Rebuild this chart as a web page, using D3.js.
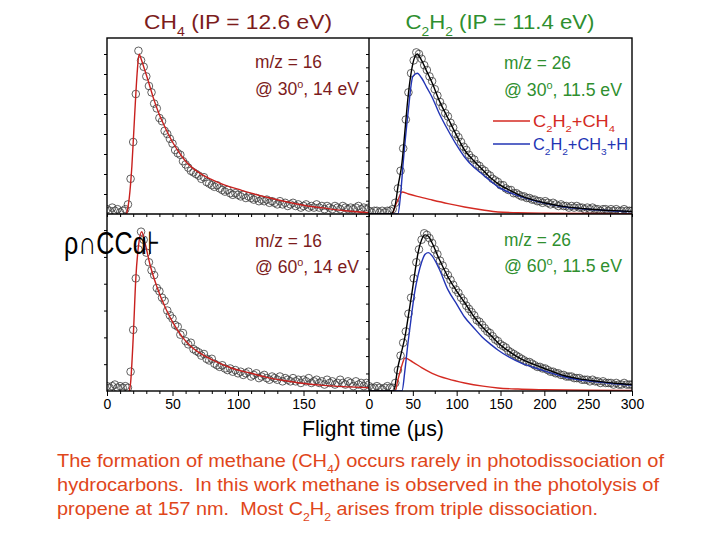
<!DOCTYPE html>
<html><head><meta charset="utf-8">
<script src="https://cdn.jsdelivr.net/npm/d3@7"></script>
<style>body{margin:0;background:#fff}svg{display:block}text{font-family:"Liberation Sans",Arial,sans-serif}</style>
</head><body>
<svg id="c" width="720" height="540"></svg>
<script>
// ---------- DATA ----------
const timeLeft = [0,2,4,6,8,10,12,14,16,18,20,22,24,26,28,30,32,34,36,38,40,42,44,46,48,50,52,54,56,58,60,62,64,66,68,70,72,74,76,78,80,82,84,86,88,90,92,94,96,98,100,102,104,106,108,110,112,114,116,118,120,122,124,126,128,130,132,134,136,138,140,142,144,146,148,150,152,154,156,158,160,162,164,166,168,170,172,174,176,178,180,182,184,186,188,190,192,194,196,198,200];
const timeRight = [0,3,6,9,12,15,18,21,24,27,30,33,36,39,42,45,48,51,54,57,60,63,66,69,72,75,78,81,84,87,90,93,96,99,102,105,108,111,114,117,120,123,126,129,132,135,138,141,144,147,150,153,156,159,162,165,168,171,174,177,180,183,186,189,192,195,198,201,204,207,210,213,216,219,222,225,228,231,234,237,240,243,246,249,252,255,258,261,264,267,270,273,276,279,282,285,288,291,294,297,300];

// CH4 m/z=16, 30 deg
const ch4At30Data = [0.03,0.02,0.04,0.02,0.03,0.01,0.02,0.03,0.06,0.22,0.45,0.75,1.02,0.96,0.92,0.86,0.80,0.76,0.69,0.66,0.60,0.58,0.52,0.50,0.47,0.44,0.40,0.38,0.37,0.33,0.31,0.29,0.27,0.26,0.25,0.24,0.22,0.23,0.20,0.19,0.18,0.17,0.18,0.16,0.15,0.14,0.15,0.13,0.12,0.13,0.12,0.11,0.12,0.10,0.11,0.10,0.09,0.10,0.08,0.09,0.08,0.09,0.07,0.08,0.07,0.06,0.08,0.06,0.07,0.05,0.06,0.07,0.05,0.06,0.04,0.05,0.06,0.04,0.05,0.04,0.06,0.04,0.05,0.03,0.05,0.04,0.03,0.05,0.04,0.03,0.05,0.04,0.03,0.04,0.03,0.04,0.05,0.03,0.04,0.03,0.04];
const ch4At30FitT = [15,17,19,21,23,24.5,26,28,30,33,36,40,45,50,55,60,65,70,75,80,90,100,110,122,135,150,165,180,200];
const ch4At30FitV = [0,0.1,0.3,0.6,0.88,1.0,0.97,0.92,0.87,0.79,0.71,0.62,0.53,0.45,0.385,0.33,0.29,0.26,0.235,0.215,0.18,0.155,0.13,0.105,0.08,0.055,0.038,0.022,0.008];

// CH4 m/z=16, 60 deg
const ch4At60Data = [0.03,0.02,0.03,0.04,0.02,0.03,0.02,0.03,0.02,0.12,0.38,0.70,0.88,0.99,0.94,0.86,0.80,0.75,0.72,0.64,0.62,0.58,0.56,0.50,0.47,0.45,0.41,0.40,0.35,0.36,0.31,0.29,0.30,0.26,0.25,0.24,0.22,0.23,0.20,0.19,0.20,0.17,0.16,0.15,0.16,0.14,0.13,0.14,0.12,0.13,0.11,0.12,0.10,0.11,0.12,0.09,0.10,0.11,0.08,0.09,0.10,0.08,0.07,0.09,0.08,0.07,0.09,0.06,0.08,0.07,0.06,0.08,0.06,0.07,0.05,0.07,0.06,0.08,0.05,0.06,0.07,0.05,0.06,0.04,0.07,0.05,0.06,0.04,0.05,0.07,0.05,0.04,0.06,0.05,0.03,0.06,0.04,0.05,0.03,0.05,0.04];
const ch4At60FitT = [17,18,20,22,24,26.5,29,33,38,45,50,58,65,71,80,96,110,122,135,147,165,180,200];
const ch4At60FitV = [0,0.05,0.33,0.7,0.9,0.99,0.92,0.78,0.65,0.51,0.43,0.33,0.27,0.235,0.195,0.14,0.11,0.085,0.065,0.05,0.035,0.027,0.02];

// C2H2 m/z=26, 30 deg
const c2h2At30Data = [0.02,0.01,0.02,0.02,0.01,0.02,0.01,0.02,0.02,0.03,0.07,0.16,0.27,0.41,0.59,0.76,0.88,0.96,1.01,1.0,0.97,0.93,0.90,0.86,0.83,0.78,0.74,0.70,0.67,0.63,0.61,0.57,0.54,0.50,0.48,0.45,0.42,0.40,0.37,0.35,0.34,0.31,0.30,0.28,0.27,0.25,0.24,0.22,0.21,0.20,0.18,0.18,0.16,0.15,0.15,0.13,0.13,0.12,0.11,0.11,0.10,0.10,0.09,0.09,0.08,0.08,0.07,0.08,0.07,0.06,0.07,0.06,0.05,0.06,0.05,0.05,0.04,0.05,0.04,0.05,0.04,0.04,0.03,0.04,0.03,0.04,0.03,0.03,0.02,0.03,0.03,0.02,0.03,0.02,0.03,0.02,0.02,0.03,0.02,0.02,0.02];
const c2h2At30TotalT = [0,25,30,33,37.6,41,44.5,50,55,60,66,72,80,90,100,109,120,129,140,147,160,175,186,200,223,240,261,280,300];
const c2h2At30TotalV = [0,0,0.06,0.17,0.32,0.52,0.73,0.94,1.0,0.96,0.89,0.82,0.71,0.60,0.49,0.40,0.33,0.28,0.22,0.19,0.15,0.11,0.09,0.07,0.046,0.036,0.027,0.021,0.016];
const c2h2At30TripleT = [0,33,36,39,44.5,50,55,60,66,72,80,90,100,109,120,129,140,147,160,175,186,200,223,240,261,280,300];
const c2h2At30TripleV = [0,0,0.12,0.32,0.63,0.86,0.88,0.85,0.79,0.73,0.63,0.525,0.43,0.356,0.29,0.25,0.2,0.17,0.135,0.105,0.0875,0.068,0.044,0.034,0.025,0.019,0.015];
const c2h2At30BinaryT = [0,26,30,34,37.6,45,55,72,90,109,130,147,170,200,250,300];
const c2h2At30BinaryV = [0,0,0.05,0.1,0.1375,0.125,0.11,0.0875,0.065,0.044,0.025,0.0125,0.008,0.005,0.003,0.002];

// C2H2 m/z=26, 60 deg
const c2h2At60Data = [0.03,0.02,0.02,0.03,0.02,0.01,0.02,0.03,0.02,0.02,0.05,0.13,0.22,0.30,0.37,0.48,0.58,0.70,0.80,0.88,0.94,0.98,0.97,0.95,0.92,0.88,0.85,0.81,0.78,0.74,0.72,0.69,0.66,0.63,0.61,0.58,0.56,0.53,0.51,0.49,0.47,0.44,0.43,0.41,0.39,0.37,0.36,0.34,0.32,0.31,0.29,0.28,0.27,0.25,0.24,0.23,0.22,0.21,0.20,0.19,0.18,0.18,0.17,0.16,0.15,0.15,0.14,0.14,0.13,0.12,0.12,0.11,0.11,0.10,0.10,0.09,0.09,0.09,0.08,0.08,0.08,0.07,0.07,0.07,0.06,0.07,0.06,0.06,0.05,0.06,0.05,0.05,0.05,0.04,0.05,0.04,0.04,0.05,0.04,0.04,0.04];
const c2h2At60TotalT = [0,28,33,37,41,45,49,53,56,60,64,68,72,80,90,100,109,120,129,140,147,160,175,186,200,223,240,261,280,300];
const c2h2At60TotalV = [0,0,0.15,0.24,0.336,0.47,0.61,0.76,0.86,0.94,0.97,0.96,0.92,0.82,0.71,0.62,0.55,0.46,0.40,0.34,0.30,0.245,0.195,0.17,0.14,0.095,0.075,0.06,0.048,0.04];
const c2h2At60TripleT = [0,37.6,41,44.5,48,52,56,60,64,67.7,72,80,90,100,109,120,129,140,147,160,175,186,200,223,240,261,280,300];
const c2h2At60TripleV = [0,0,0.13,0.30,0.45,0.61,0.72,0.80,0.85,0.86,0.84,0.76,0.63,0.54,0.46,0.39,0.336,0.285,0.255,0.21,0.17,0.15,0.125,0.087,0.07,0.056,0.045,0.037];
const c2h2At60BinaryT = [0,29.6,33,37,41,50,60,72,90,109,130,147,170,200,250,300];
const c2h2At60BinaryV = [0,0,0.07,0.15,0.205,0.18,0.145,0.11,0.075,0.05,0.03,0.019,0.012,0.008,0.005,0.003];

const xTicksLeft = [0,50,100,150];
const xTicksRight = [0,50,100,150,200,250,300];
const xMinorLeft = [10,20,30,40,60,70,80,90,110,120,130,140,160,170,180,190];
const xMinorRight = [25,75,125,175,225,275];
const yTicksTL = [0.125,0.25,0.375,0.5,0.625,0.75,0.875,1.0];
const yTicksTR = [0.0833,0.1667,0.25,0.3333,0.4167,0.5,0.5833,0.6667,0.75,0.8333,0.9167,1.0];
const yTicksBL = [0.1667,0.3333,0.5,0.6667,0.8333,1.0];
const yTicksBR = [0.109,0.217,0.326,0.435,0.543,0.652,0.761,0.87,0.978,1.087];
const legendLabels = [["C",null],["2","sub"],["H",null],["2","sub"],["+CH",null],["4","sub"]];
const legendLabels2 = [["C",null],["2","sub"],["H",null],["2","sub"],["+CH",null],["3","sub"],["+H",null]];

// ---------- LAYOUT ----------
const svg = d3.select("#c");
const X0 = 107, XM = 369, X1 = 632, Y0 = 38, YM = 214, Y1 = 391;
const red = "#d42a22", blue = "#2234b4", dark = "#7c1c1c", green = "#2f8f2f";

const xL = d3.scaleLinear().domain([0,200]).range([X0, XM]);
const xR = d3.scaleLinear().domain([0,300]).range([XM, X1]);
const yT = d3.scaleLinear().domain([0,1.1]).range([YM, Y0]);
const yB = d3.scaleLinear().domain([0,1.1]).range([Y1, YM]);

const defs = svg.append("defs");
function clip(id, x, y, w, h){ defs.append("clipPath").attr("id", id).append("rect").attr("x",x).attr("y",y).attr("width",w).attr("height",h); }
clip("cTL", X0, Y0, XM-X0, YM-Y0); clip("cTR", XM, Y0, X1-XM, YM-Y0);
clip("cBL", X0, YM, XM-X0, Y1-YM); clip("cBR", XM, YM, X1-XM, Y1-YM);

function panel(clipId, xs, ys, times, data, fits){
  const g = svg.append("g").attr("clip-path", `url(#${clipId})`);
  g.selectAll("circle").data(times.map((t,i)=>[t,data[i]])).join("circle")
    .attr("cx", d=>xs(d[0])).attr("cy", d=>ys(d[1])).attr("r", 3.8)
    .attr("fill","none").attr("stroke","#3a3a3a").attr("stroke-width",0.8);
  const line = d3.line().x(d=>xs(d[0])).y(d=>ys(d[1])).curve(d3.curveMonotoneX);
  fits.forEach(f=>{
    g.append("path").datum(f.t.map((t,i)=>[t,f.v[i]])).attr("d", line)
      .attr("fill","none").attr("stroke", f.c).attr("stroke-width", 1.4);
  });
}
panel("cTL", xL, yT, timeLeft, ch4At30Data, [{t:ch4At30FitT, v:ch4At30FitV, c:"#c8201e"}]);
panel("cBL", xL, yB, timeLeft, ch4At60Data, [{t:ch4At60FitT, v:ch4At60FitV, c:"#c8201e"}]);
panel("cTR", xR, yT, timeRight, c2h2At30Data, [
  {t:c2h2At30BinaryT, v:c2h2At30BinaryV, c:red},
  {t:c2h2At30TripleT, v:c2h2At30TripleV, c:blue},
  {t:c2h2At30TotalT, v:c2h2At30TotalV, c:"#000"}]);
panel("cBR", xR, yB, timeRight, c2h2At60Data, [
  {t:c2h2At60BinaryT, v:c2h2At60BinaryV, c:red},
  {t:c2h2At60TripleT, v:c2h2At60TripleV, c:blue},
  {t:c2h2At60TotalT, v:c2h2At60TotalV, c:"#000"}]);

// axes
function styleAxis(g){ g.select(".domain").remove(); g.selectAll("line").attr("stroke","#000").attr("stroke-width",1); g.selectAll("text").attr("font-size",14).attr("fill","#000").attr("font-family","Liberation Sans, Arial, sans-serif"); }
const bl = svg.append("g").attr("transform",`translate(0,${Y1})`).call(d3.axisBottom(xL).tickValues(xTicksLeft).tickSize(5).tickPadding(3)); styleAxis(bl);
const br = svg.append("g").attr("transform",`translate(0,${Y1})`).call(d3.axisBottom(xR).tickValues(xTicksRight).tickSize(5).tickPadding(3)); styleAxis(br);
svg.append("g").attr("transform",`translate(0,${Y1})`).call(d3.axisBottom(xL).tickValues(xMinorLeft).tickSize(3).tickFormat("")).call(styleAxis);
svg.append("g").attr("transform",`translate(0,${Y1})`).call(d3.axisBottom(xR).tickValues(xMinorRight).tickSize(3).tickFormat("")).call(styleAxis);
svg.append("g").attr("transform",`translate(0,${YM})`).call(d3.axisBottom(xL).tickValues(xTicksLeft.concat(xMinorLeft)).tickSize(3).tickFormat("")).call(styleAxis);
svg.append("g").attr("transform",`translate(0,${YM})`).call(d3.axisBottom(xR).tickValues(xTicksRight.concat(xMinorRight)).tickSize(3).tickFormat("")).call(styleAxis);
svg.append("g").attr("transform",`translate(${X0},0)`).call(d3.axisLeft(yT).tickValues(yTicksTL).tickSize(3).tickFormat("")).call(styleAxis);
svg.append("g").attr("transform",`translate(${XM},0)`).call(d3.axisLeft(yT).tickValues(yTicksTR).tickSize(3).tickFormat("")).call(styleAxis);
svg.append("g").attr("transform",`translate(${X0},0)`).call(d3.axisLeft(yB).tickValues(yTicksBL).tickSize(3).tickFormat("")).call(styleAxis);
svg.append("g").attr("transform",`translate(${XM},0)`).call(d3.axisLeft(yB).tickValues(yTicksBR).tickSize(3).tickFormat("")).call(styleAxis);

// frames
const frame = svg.append("g").attr("fill","none").attr("stroke","#000").attr("stroke-width",1.4);
frame.append("rect").attr("x",X0).attr("y",Y0).attr("width",X1-X0).attr("height",Y1-Y0);
frame.append("line").attr("x1",XM).attr("x2",XM).attr("y1",Y0).attr("y2",Y1);
frame.append("line").attr("x1",X0).attr("x2",X1).attr("y1",YM).attr("y2",YM);

function rich(sel, parts, size){
  let off = 0;
  parts.forEach(([s,k])=>{
    const target = k==="sub" ? size*0.32 : k==="sup" ? -size*0.42 : 0;
    sel.append("tspan").attr("dy", target-off).attr("font-size", k ? size*0.62 : size).text(s);
    off = target;
  });
  return sel;
}
function label(x, y, parts, size, color, anchor, len){
  const t = svg.append("text").attr("x",x).attr("y",y).attr("fill",color).attr("text-anchor",anchor||"start").attr("font-size",size).style("white-space","pre");
  if(len) t.attr("textLength",len).attr("lengthAdjust","spacingAndGlyphs");
  return rich(t, parts, size);
}

label(238, 29, [["CH",null],["4","sub"],[" (IP = 12.6 eV)",null]], 21, dark, "middle", 188);
label(500, 29, [["C",null],["2","sub"],["H",null],["2","sub"],[" (IP = 11.4 eV)",null]], 21, green, "middle", 189);

label(255, 68, [["m/z = 16",null]], 17.5, dark, "start", 67);
label(255, 95, [["@ 30",null],["o","sup"],[", 14 eV",null]], 17.5, dark, "start", 104);
label(255, 247, [["m/z = 16",null]], 17.5, dark, "start", 67);
label(255, 273, [["@ 60",null],["o","sup"],[", 14 eV",null]], 17.5, dark, "start", 104);
label(504, 69, [["m/z = 26",null]], 17.5, green, "start", 67);
label(504, 96, [["@ 30",null],["o","sup"],[", 11.5 eV",null]], 17.5, green, "start", 118);
label(504, 246, [["m/z = 26",null]], 17.5, green, "start", 67);
label(504, 272, [["@ 60",null],["o","sup"],[", 11.5 eV",null]], 17.5, green, "start", 118);

svg.append("line").attr("x1",493).attr("x2",530).attr("y1",121).attr("y2",121).attr("stroke",red).attr("stroke-width",1.3);
svg.append("line").attr("x1",493).attr("x2",530).attr("y1",144).attr("y2",144).attr("stroke",blue).attr("stroke-width",1.3);
label(533, 127, legendLabels, 16, red, "start", 82);
label(533, 150, legendLabels2, 16, blue, "start", 95);

svg.append("text").attr("x",64).attr("y",254).attr("font-size",32).attr("fill","#000").attr("textLength",96).attr("lengthAdjust","spacingAndGlyphs").text("ρ∩CCɑ⊦");

label(373, 436, [["Flight time (μs)",null]], 22, "#000", "middle", 142);

const cap = "#e0461a";
label(57, 467, [["The formation of methane (CH",null],["4","sub"],[") occurs rarely in photodissociation of",null]], 17.5, cap, "start", 607);
label(57, 491, [["hydrocarbons.  In this work methane is observed in the photolysis of",null]], 17.5, cap, "start", 602);
label(57, 515, [["propene at 157 nm.  Most C",null],["2","sub"],["H",null],["2","sub"],[" arises from triple dissociation.",null]], 17.5, cap, "start", 541);
</script>
</body></html>
